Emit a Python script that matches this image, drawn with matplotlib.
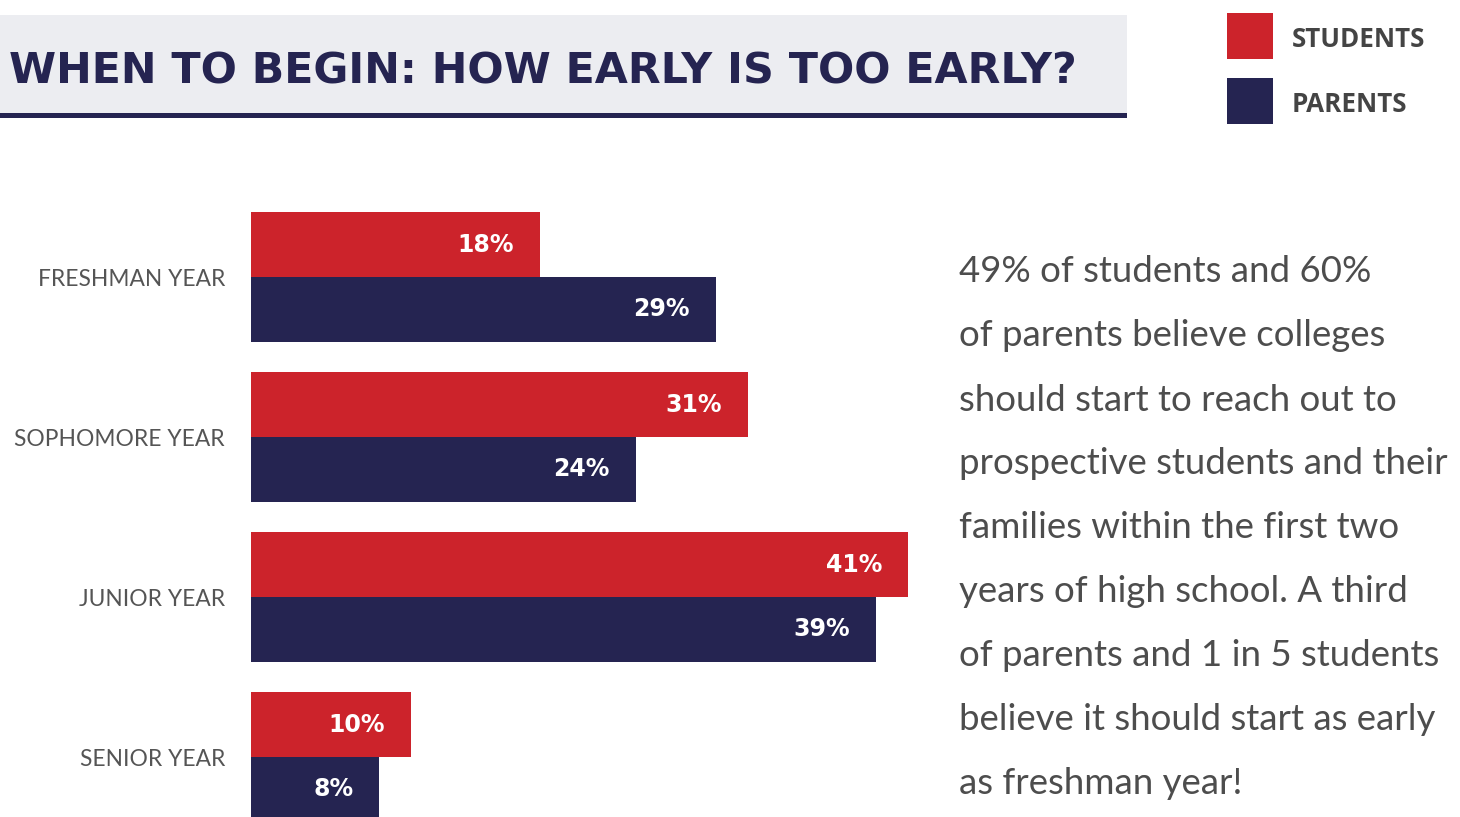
import matplotlib
matplotlib.use("Agg")
import matplotlib.pyplot as plt
from matplotlib.patches import Rectangle
import numpy as np

# ---- data ----
categories = ["FRESHMAN YEAR", "SOPHOMORE YEAR", "JUNIOR YEAR", "SENIOR YEAR"]
students = [18, 31, 41, 10]
parents = [29, 24, 39, 8]
series_names = ["STUDENTS", "PARENTS"]
title = "WHEN TO BEGIN: HOW EARLY IS TOO EARLY?"
note_lines = [
    "49% of students and 60%",
    "of parents believe colleges",
    "should start to reach out to",
    "prospective students and their",
    "families within the first two",
    "years of high school. A third",
    "of parents and 1 in 5 students",
    "believe it should start as early",
    "as freshman year!",
]

RED = "#CC232B"
NAVY = "#252451"
BAND = "#ECEDF1"
GRAY = "#555555"

W, H = 1460, 817
fig = plt.figure(figsize=(W / 100, H / 100), dpi=100)
fig.patch.set_facecolor("white")


def fx(x):
    return x / W


def fy(y):
    return 1 - y / H


renderer = fig.canvas.get_renderer()


def fit_width(t, width_px):
    bb = t.get_window_extent(renderer)
    t.set_fontsize(t.get_fontsize() * width_px / bb.width)


# ---- title band ----
fig.add_artist(Rectangle((0, fy(113)), fx(1127), fy(15) - fy(113),
                         transform=fig.transFigure, facecolor=BAND, edgecolor="none"))
fig.add_artist(Rectangle((0, fy(118)), fx(1127), fy(113) - fy(118),
                         transform=fig.transFigure, facecolor=NAVY, edgecolor="none"))
t = fig.text(fx(9), fy(83), title, color=NAVY, fontsize=30, fontweight="bold",
             family="DejaVu Sans", ha="left", va="baseline")
fit_width(t, 1071)

# ---- legend ----
legend_size = None
for i, (name, col) in enumerate(zip(series_names, [RED, NAVY])):
    top = 13 + i * 65
    fig.add_artist(Rectangle((fx(1227), fy(top + 46)), fx(46), fy(top) - fy(top + 46),
                             transform=fig.transFigure, facecolor=col, edgecolor="none"))
    lt = fig.text(fx(1292), fy(top + 34), name, color="#444444", fontsize=14,
                  fontweight="bold", family="Open Sans", ha="left", va="baseline")
    if legend_size is None:
        fit_width(lt, 134)
        legend_size = lt.get_fontsize()
    else:
        lt.set_fontsize(legend_size)

# ---- bars ----
px_per_pct = 16.03
group_px = 160.0
bar_px = 65.0
ax_left, ax_top, ax_bottom = 251, 212, 817
xmax = 45
ax = fig.add_axes([fx(ax_left), fy(ax_bottom), fx(xmax * px_per_pct), fy(ax_top) - fy(ax_bottom)])
h = bar_px / group_px
centers = np.arange(len(categories))
ax.set_xlim(0, xmax)
ax.set_ylim((ax_bottom - 277) / group_px, (ax_top - 277) / group_px)

ax.barh(centers - h / 2, students, height=h, color=RED, linewidth=0)
ax.barh(centers + h / 2, parents, height=h, color=NAVY, linewidth=0)

for c, v in zip(centers, students):
    ax.annotate(f"{v}%", (v, c - h / 2), xytext=(-26 * 0.72, 0), textcoords="offset points",
                ha="right", va="center", color="white", fontsize=17, fontweight="bold",
                family="DejaVu Sans")
for c, v in zip(centers, parents):
    ax.annotate(f"{v}%", (v, c + h / 2), xytext=(-26 * 0.72, 0), textcoords="offset points",
                ha="right", va="center", color="white", fontsize=17, fontweight="bold",
                family="DejaVu Sans")

ax.set_yticks(centers)
ax.set_yticklabels(categories, color=GRAY, fontsize=16.4, family="Lato", fontweight="normal")
ax.tick_params(axis="y", length=0, pad=26 * 0.72)
ax.set_xticks([])
for s in ax.spines.values():
    s.set_visible(False)
ax.patch.set_alpha(0)

# ---- note text ----
note_texts = []
for i, line in enumerate(note_lines):
    nt = fig.text(fx(959), fy(272 + 64 * i), line, color="#4D4D4D", fontsize=22,
                  family="Lato", ha="left", va="center")
    note_texts.append(nt)
fit_width(note_texts[3], 487)
for nt in note_texts:
    nt.set_fontsize(note_texts[3].get_fontsize())

fig.savefig("out.png", dpi=100)
